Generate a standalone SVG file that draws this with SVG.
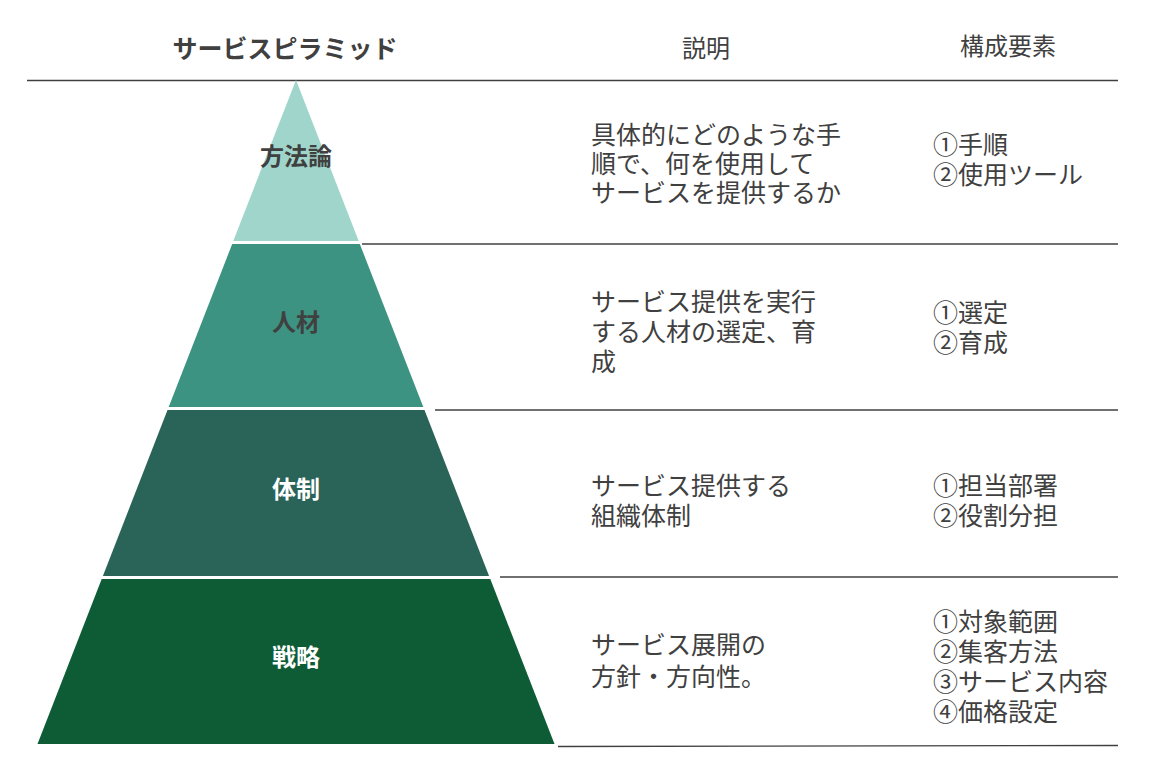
<svg xmlns="http://www.w3.org/2000/svg" width="1157" height="763" viewBox="0 0 1157 763">
<style>
.t{font-family:"Noto Sans CJK JP","Noto Sans CJK SC",sans-serif;fill:#404040}
.h{font-size:24px}
.d{font-size:25px}
.lb{font-size:24px;font-weight:bold;text-anchor:middle}
.w{fill:#ffffff}
.ln{stroke:#404040;stroke-width:1.3;fill:none}
</style>
<rect width="1157" height="763" fill="#ffffff"/>
<g id="connectors">
<line class="ln" x1="27" y1="80.5" x2="1118" y2="80.5"/>
<line class="ln" x1="362" y1="244" x2="1118" y2="244"/>
<line class="ln" x1="435" y1="410" x2="1118" y2="410"/>
<line class="ln" x1="500" y1="577" x2="1118" y2="577"/>
<line class="ln" x1="558" y1="746.5" x2="1118" y2="745.5" stroke="#555555"/>
</g>
<g id="headers">
<text class="t" x="285" y="58" font-size="25" font-weight="bold" text-anchor="middle">サービスピラミッド</text>
<text class="t h" x="706" y="57" text-anchor="middle">説明</text>
<text class="t h" x="1008" y="55" text-anchor="middle">構成要素</text>
</g>
<g id="layer-houhouron">
<polygon points="296,80 358.7,241 233.3,241" fill="#9fd5cb"/>
<text class="t lb" x="296" y="165">方法論</text>
</g>
<g id="layer-jinzai">
<polygon points="232.2,244 359.8,244 423.3,407 168.7,407" fill="#3d9382"/>
<text class="t lb" x="296" y="331">人材</text>
</g>
<g id="layer-taisei">
<polygon points="167.5,410 424.5,410 489.1,576 102.9,576" fill="#2a6358"/>
<text class="t lb w" x="296" y="498">体制</text>
</g>
<g id="layer-senryaku">
<polygon points="101.7,579 490.3,579 554.5,744 37.5,744" fill="#0d5c36"/>
<text class="t lb w" x="296" y="666">戦略</text>
</g>
<g id="desc">
<text class="t d" x="591" y="144"><tspan x="591" y="144">具体的にどのような手</tspan><tspan x="591" y="173">順で、何を使用して</tspan><tspan x="591" y="202">サービスを提供するか</tspan></text>
<text class="t d" x="591" y="311"><tspan x="591" y="311">サービス提供を実行</tspan><tspan x="591" y="341">する人材の選定、育</tspan><tspan x="591" y="371">成</tspan></text>
<text class="t d" x="591" y="495"><tspan x="591" y="495">サービス提供する</tspan><tspan x="591" y="525">組織体制</tspan></text>
<text class="t d" x="591" y="654"><tspan x="591" y="654">サービス展開の</tspan><tspan x="591" y="686">方針・方向性。</tspan></text>
</g>
<g id="components">
<text class="t d" x="933" y="154"><tspan x="933" y="154">①手順</tspan><tspan x="933" y="184">②使用ツール</tspan></text>
<text class="t d" x="933" y="322"><tspan x="933" y="322">①選定</tspan><tspan x="933" y="352">②育成</tspan></text>
<text class="t d" x="933" y="495"><tspan x="933" y="495">①担当部署</tspan><tspan x="933" y="525">②役割分担</tspan></text>
<text class="t d" x="933" y="631"><tspan x="933" y="631">①対象範囲</tspan><tspan x="933" y="661">②集客方法</tspan><tspan x="933" y="691">③サービス内容</tspan><tspan x="933" y="721">④価格設定</tspan></text>
</g>
</svg>
